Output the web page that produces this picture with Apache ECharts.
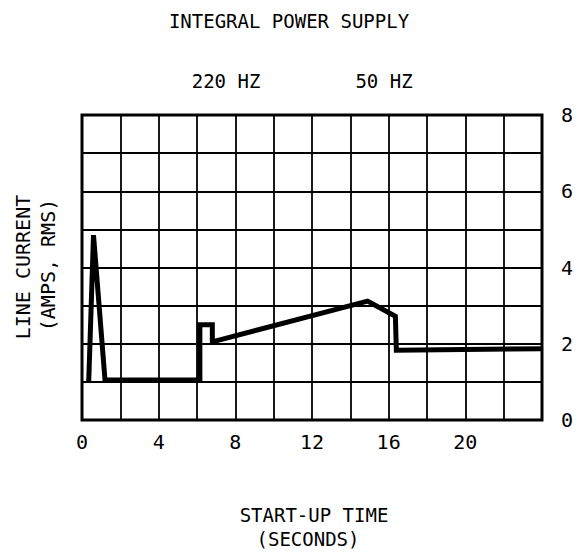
<!DOCTYPE html>
<html>
<head>
<meta charset="utf-8">
<script src="https://cdn.jsdelivr.net/npm/echarts@6/dist/echarts.min.js"></script>
<style>
  html, body { margin: 0; padding: 0; background: #fff; }
  #chart { width: 579px; height: 558px; }
</style>
</head>
<body>
<div id="chart"></div>
<script>
// start-up time (s) and line current (amps rms)
var time    = [0.35, 0.6, 1.2, 6.15, 6.15, 6.8, 6.8, 14.9, 16.35, 16.4, 24];
var current = [1.0, 4.85, 1.05, 1.05, 2.5, 2.5, 2.05, 3.12, 2.72, 1.83, 1.87];
var xTickLabels = [0, 4, 8, 12, 16, 20];
var yTickLabels = [0, 2, 4, 6, 8];

var FONT = '"DejaVu Sans Mono", monospace';

var chart = echarts.init(document.getElementById('chart'), null, { renderer: 'svg' });

function label(text, x, y, size, rot) {
  return {
    type: 'text', x: x, y: y, rotation: rot || 0,
    style: { text: text, font: size + 'px ' + FONT, fill: '#000', align: 'center', verticalAlign: 'middle' }
  };
}

var option = {
  backgroundColor: '#fff',
  animation: false,
  grid: {
    left: 82, right: 37, top: 115, bottom: 138,
    show: true,
    borderColor: '#000',
    borderWidth: 3
  },
  graphic: [
    label('INTEGRAL POWER SUPPLY', 289, 21, 19),
    label('220 HZ', 226, 81, 19),
    label('50 HZ', 384, 81, 19),
    label('LINE CURRENT', 23, 267, 20, Math.PI / 2),
    label('(AMPS, RMS)', 48, 265, 20, Math.PI / 2),
    label('START-UP TIME', 314, 515, 19),
    label('(SECONDS)', 308, 539, 19)
  ],
  xAxis: {
    type: 'value',
    min: 0, max: 24, interval: 2,
    axisLine: { show: false },
    axisTick: { show: false },
    splitLine: { show: true, lineStyle: { color: '#000', width: 1.8 } },
    axisLabel: {
      color: '#000', fontSize: 20, fontFamily: FONT, margin: 12,
      formatter: function (v) { return xTickLabels.indexOf(v) >= 0 ? String(v) : ''; }
    }
  },
  yAxis: {
    type: 'value',
    position: 'right',
    min: 0, max: 8, interval: 1,
    axisLine: { show: false },
    axisTick: { show: false },
    splitLine: { show: true, lineStyle: { color: '#000', width: 1.8 } },
    axisLabel: {
      color: '#000', fontSize: 20, fontFamily: FONT, margin: 19,
      formatter: function (v) { return yTickLabels.indexOf(v) >= 0 ? String(v) : ''; }
    }
  },
  series: [{
    type: 'line',
    data: time.map(function (t, i) { return [t, current[i]]; }),
    showSymbol: false,
    symbol: 'none',
    lineStyle: { color: '#000', width: 5, join: 'miter' },
    z: 5
  }]
};

chart.setOption(option);
</script>
</body>
</html>
